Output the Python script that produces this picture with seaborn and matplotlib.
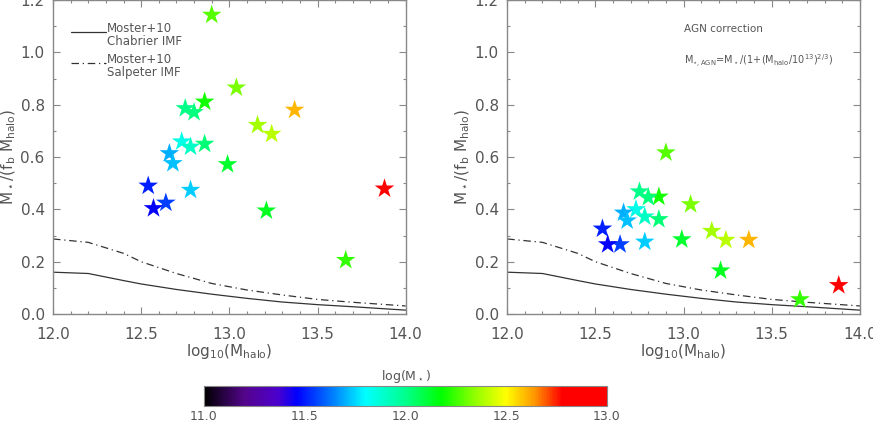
import numpy as np
import pandas as pd
import matplotlib
matplotlib.use('Agg')
import matplotlib.pyplot as plt
import seaborn as sns
from matplotlib.colors import LinearSegmentedColormap, Normalize
from matplotlib.ticker import MultipleLocator

# halo mass, stellar mass and star/halo fractions
log_mhalo = [12.90, 13.04, 12.86, 12.75, 12.80, 13.37, 13.16, 13.24, 12.73, 12.78, 12.86,
             12.66, 12.68, 12.99, 12.54, 12.78, 13.88, 12.64, 12.57, 13.21, 13.66]
log_mstar = [12.28, 12.32, 12.20, 12.00, 12.02, 12.60, 12.37, 12.40, 11.84, 11.90, 12.03,
             11.70, 11.72, 12.12, 11.50, 11.74, 12.85, 11.55, 11.46, 12.14, 12.24]
frac = [1.143, 0.865, 0.811, 0.786, 0.771, 0.780, 0.722, 0.688, 0.659, 0.639, 0.650,
        0.614, 0.576, 0.572, 0.490, 0.474, 0.479, 0.425, 0.404, 0.395, 0.206]
frac_agn = [0.617, 0.419, 0.448, 0.468, 0.446, 0.283, 0.317, 0.283, 0.400, 0.372, 0.362,
            0.387, 0.357, 0.285, 0.326, 0.276, 0.110, 0.266, 0.266, 0.166, 0.056]

# Moster+10 relations
moster_x = [12.0, 12.2, 12.4, 12.5, 12.7, 12.9, 13.1, 13.3, 13.5, 13.7, 14.0]
moster_chab = [0.160, 0.155, 0.128, 0.115, 0.094, 0.076, 0.060, 0.046, 0.036, 0.028, 0.015]
moster_salp = [0.287, 0.274, 0.232, 0.200, 0.155, 0.117, 0.092, 0.073, 0.056, 0.045, 0.031]

df = pd.DataFrame({'mhalo': log_mhalo, 'mstar': log_mstar, 'frac': frac, 'frac_agn': frac_agn})
moster = pd.DataFrame({'x': moster_x, 'chab': moster_chab, 'salp': moster_salp})

sns.set_style('ticks')
plt.rcParams['font.family'] = ['DejaVu Sans']
plt.rcParams['mathtext.fontset'] = 'dejavusans'

# IDL rainbow + black colour table
cmap = LinearSegmentedColormap.from_list('rainbow_black', [
    (0.00, (0, 0, 0)), (0.10, (0.33, 0.02, 0.55)), (0.18, (0.30, 0.0, 0.80)),
    (0.23, (0, 0, 1)), (0.32, (0, 0.5, 1)), (0.40, (0, 1, 1)), (0.50, (0, 1, 0.55)),
    (0.59, (0, 1, 0)), (0.67, (0.55, 1, 0)), (0.75, (1, 1, 0)), (0.82, (1, 0.6, 0)),
    (0.89, (1, 0, 0)), (1.00, (1, 0, 0))])
norm = Normalize(11.0, 13.0)

txt = '#555555'
frame = '#888888'
dashdot = (0, (6, 3, 1, 3))

fig = plt.figure(figsize=(8.73, 4.21), dpi=100)
ax1 = fig.add_axes([0.0607, 0.254, 0.404, 0.746])
ax2 = fig.add_axes([0.581, 0.254, 0.404, 0.746])

for ax, ycol in [(ax1, 'frac'), (ax2, 'frac_agn')]:
    sns.lineplot(data=moster, x='x', y='chab', color='#333333', lw=0.9, ax=ax)
    sns.lineplot(data=moster, x='x', y='salp', color='#333333', lw=0.9, ax=ax,
                 linestyle=dashdot)
    sns.scatterplot(data=df, x='mhalo', y=ycol, hue='mstar', palette=cmap, hue_norm=norm,
                    marker='*', s=220, linewidth=0, legend=False, ax=ax, zorder=3)
    ax.set_xlim(12.0, 14.0)
    ax.set_ylim(0.0, 1.2)
    ax.xaxis.set_major_locator(MultipleLocator(0.5))
    ax.xaxis.set_minor_locator(MultipleLocator(0.1))
    ax.yaxis.set_major_locator(MultipleLocator(0.2))
    ax.yaxis.set_minor_locator(MultipleLocator(0.1))
    ax.xaxis.set_major_formatter('{x:.1f}')
    ax.yaxis.set_major_formatter('{x:.1f}')
    ax.tick_params(which='both', direction='in', top=True, right=True, colors=frame,
                   labelcolor=txt, labelsize=11, width=0.8)
    ax.tick_params(which='major', length=5, pad=6)
    ax.tick_params(axis='x', which='major', pad=9)
    ax.tick_params(which='minor', length=2.5)
    for sp in ax.spines.values():
        sp.set_color(frame)
        sp.set_linewidth(1.0)
    ax.set_xlabel(r'log$_{10}$(M$_{\rm halo}$)', color=txt, fontsize=11, labelpad=0)
    ax.set_ylabel(r'M$_\star$/(f$_{\rm b}$ M$_{\rm halo}$)', color=txt, fontsize=11, labelpad=2)

# legend for the Moster curves
leg = [('-', 0.898, 'Moster+10', 'Chabrier IMF'),
       (dashdot, 0.799, 'Moster+10', 'Salpeter IMF')]
for ls, yy, l1, l2 in leg:
    ax1.plot([0.05, 0.15], [yy, yy], transform=ax1.transAxes, color='#333333', lw=0.9,
             linestyle=ls)
    ax1.text(0.152, yy, l1, transform=ax1.transAxes, color=txt, fontsize=8.5,
             va='baseline', ha='left')
    ax1.text(0.152, yy - 0.041, l2, transform=ax1.transAxes, color=txt, fontsize=8.5,
             va='baseline', ha='left')

ax2.text(13.0, 1.09, 'AGN correction', color=txt, fontsize=7.5, va='center', ha='left')
ax2.text(13.0, 0.967, r'M$_{\star,\rm AGN}$=M$_\star$/(1+(M$_{\rm halo}$/10$^{13}$)$^{2/3}$)',
         color=txt, fontsize=7, va='center', ha='left')

# colour bar
cax = fig.add_axes([0.2337, 0.0356, 0.4616, 0.0475])
sm = plt.cm.ScalarMappable(norm=norm, cmap=cmap)
cb = fig.colorbar(sm, cax=cax, orientation='horizontal')
cb.set_ticks([11.0, 11.5, 12.0, 12.5, 13.0])
cb.ax.xaxis.set_minor_locator(MultipleLocator(0.25))
cb.ax.xaxis.set_major_formatter('{x:.1f}')
cb.ax.tick_params(which='both', direction='in', colors=frame, labelcolor=txt, labelsize=9,
                  length=3, pad=3, top=True)
cb.outline.set_edgecolor(frame)
cb.ax.set_title(r'log(M$_\star$)', color=txt, fontsize=9, pad=4)

fig.savefig('out.png', dpi=100, facecolor='white')
